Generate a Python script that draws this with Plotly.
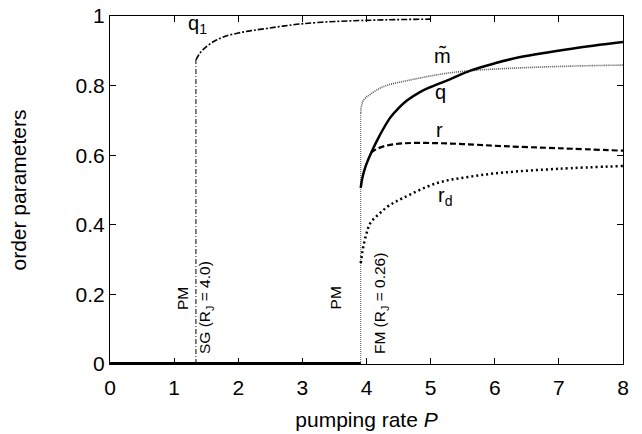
import plotly.graph_objects as go

# transition points
P_SG = 1.34
P_FM = 3.91

# paramagnetic branch (all order parameters zero)
pm_P = [0.0, 3.91]
pm_val = [0.0, 0.0]

# spin-glass branch q1
q1_P = [1.34, 1.40, 1.46, 1.56, 1.66, 1.80, 2.00, 2.20, 2.44, 2.70, 2.96, 3.30, 3.74, 4.30, 5.00]
q1 = [0.874, 0.893, 0.905, 0.920, 0.931, 0.942, 0.951, 0.958, 0.964, 0.971, 0.977, 0.982, 0.986, 0.989, 0.991]

# ferromagnetic branch
q_P = [3.91, 3.93, 3.96, 4.00, 4.08, 4.20, 4.37, 4.50, 4.63, 4.84, 5.00, 5.30, 5.62, 6.00, 6.40, 7.20, 8.00]
q = [0.506, 0.530, 0.553, 0.575, 0.610, 0.655, 0.708, 0.735, 0.757, 0.782, 0.796, 0.818, 0.843, 0.864, 0.882, 0.906, 0.925]

m_P = [3.91, 3.92, 3.95, 4.00, 4.06, 4.26, 4.68, 5.20, 5.62, 6.40, 7.20, 8.00]
m = [0.720, 0.740, 0.757, 0.767, 0.775, 0.797, 0.816, 0.834, 0.843, 0.851, 0.856, 0.859]

r_P = [4.07, 4.15, 4.30, 4.57, 5.00, 5.50, 6.13, 7.00, 8.00]
r = [0.607, 0.617, 0.627, 0.634, 0.635, 0.632, 0.626, 0.620, 0.613]

rd_P = [3.91, 3.93, 3.95, 4.00, 4.06, 4.20, 4.35, 4.57, 5.10, 5.60, 6.13, 7.00, 8.00]
rd = [0.290, 0.315, 0.337, 0.375, 0.405, 0.432, 0.455, 0.477, 0.520, 0.538, 0.550, 0.561, 0.569]

FONT = "Liberation Sans"

fig = go.Figure()

# q1 vertical jump and branch
fig.add_trace(go.Scatter(x=[P_SG, P_SG], y=[0, q1[0]], mode="lines",
                         line=dict(color="black", width=1, dash="5px,2px,1px,2px")))
fig.add_trace(go.Scatter(x=q1_P, y=q1, mode="lines", line_shape="spline",
                         line=dict(color="black", width=1.6, dash="6px,2px,2px,2px")))
# m tilde vertical jump and branch
fig.add_trace(go.Scatter(x=[P_FM, P_FM], y=[0, m[0]], mode="lines",
                         line=dict(color="#555555", width=1, dash="1px,1px")))
fig.add_trace(go.Scatter(x=m_P, y=m, mode="lines", line_shape="spline",
                         line=dict(color="#555555", width=1.6, dash="1px,1px")))
# r_d
fig.add_trace(go.Scatter(x=rd_P, y=rd, mode="lines", line_shape="spline",
                         line=dict(color="black", width=2.5, dash="2px,3px")))
# r
fig.add_trace(go.Scatter(x=r_P, y=r, mode="lines", line_shape="spline",
                         line=dict(color="black", width=2.2, dash="6px,3px")))
# q
fig.add_trace(go.Scatter(x=q_P, y=q, mode="lines", line_shape="spline",
                         line=dict(color="black", width=2.5)))
# PM baseline
fig.add_trace(go.Scatter(x=pm_P, y=pm_val, mode="lines",
                         line=dict(color="black", width=4)))

labels = [
    (1.36, 0.977, "q<sub>1</sub>"),
    (5.18, 0.884, "m\u0303"),
    (5.16, 0.782, "q"),
    (5.14, 0.672, "r"),
    (5.22, 0.480, "r<sub>d</sub>"),
]
for x, y, t in labels:
    fig.add_annotation(x=x, y=y, text=t, showarrow=False,
                       font=dict(size=20, color="black", family=FONT))

rot = [
    (1.12, 0.150, "PM"),
    (1.50, 0.022, "SG (R<sub>J</sub> = 4.0)"),
    (3.51, 0.150, "PM"),
    (4.23, 0.022, "FM (R<sub>J</sub> = 0.26)"),
]
for x, y, t in rot:
    fig.add_annotation(x=x, y=y, text=t, showarrow=False, textangle=-90,
                       xanchor="center", yanchor="bottom",
                       font=dict(size=15.5, color="black", family=FONT))

axis_common = dict(showline=True, linecolor="black", linewidth=1, mirror="ticks",
                   ticks="inside", ticklen=6, tickcolor="black", tickwidth=1,
                   showgrid=False, zeroline=False, automargin=False,
                   tickfont=dict(size=21, color="black", family=FONT),
                   title_font=dict(size=21, color="black", family=FONT))

fig.update_xaxes(range=[0, 8], dtick=1, tick0=0, ticklabelstandoff=5,
                 title_text="pumping rate <i>P</i>", title_standoff=14, **axis_common)
fig.update_yaxes(range=[0, 1], dtick=0.2, tick0=0,
                 title_text="order parameters", title_standoff=43, **axis_common)

fig.update_layout(width=642, height=434, showlegend=False,
                  margin=dict(l=110, r=19, t=16, b=70),
                  plot_bgcolor="white", paper_bgcolor="white",
                  font=dict(family=FONT, color="black"))

fig.write_html("out.html", config={"displayModeBar": False},
               post_script="document.body.style.margin='0px';document.body.style.overflow='hidden';")
